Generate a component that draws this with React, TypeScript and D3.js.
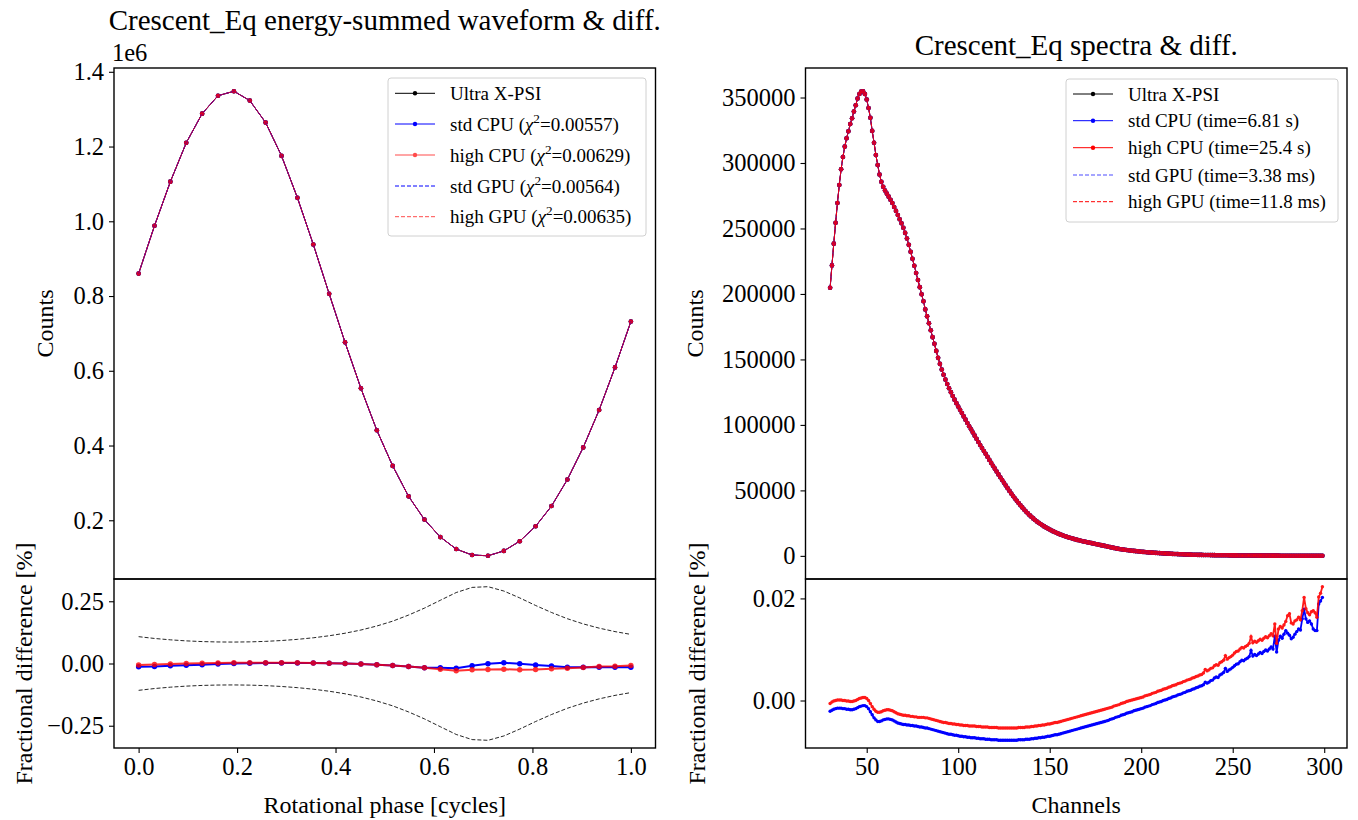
import React, { useEffect, useRef } from 'react';
import * as d3 from 'd3';

const FONT = '"Liberation Serif", "Times New Roman", serif';

// energy-summed waveform, 32 phase bins (counts)
const phases = d3.range(32).map((i) => i / 31);
const waveCounts = [
  860000, 988000, 1106000, 1210000, 1288000, 1336000, 1348000, 1323000, 1264000, 1175000,
  1063000, 938000, 806000, 676000, 553000, 441000, 345500, 264000, 202000, 155000,
  123000, 107000, 105000, 118000, 144000, 184000, 238000, 309000, 395000, 495000,
  609000, 732000,
];
// Poisson envelope [%]
const waveEnvelope = [
  0.1078, 0.1006, 0.0951, 0.0909, 0.0881, 0.0865, 0.0861, 0.0869, 0.0889, 0.0923,
  0.097, 0.1033, 0.1114, 0.1216, 0.1345, 0.1506, 0.1701, 0.1946, 0.2225, 0.254,
  0.2851, 0.3057, 0.3086, 0.2911, 0.2635, 0.2331, 0.205, 0.1799, 0.1591, 0.1421,
  0.1281, 0.1169,
];
// fractional differences [1e-3 %]
const waveDiffStd = [
  -13, -12, -9, -7, -5, -2, 0, 1, 2, 2, 2, 2, 1, 0, -2, -5, -8, -12, -17, -17,
  -19, -9, -1, 3, -1, -6, -10, -15, -15, -15, -15, -15,
];
const waveDiffHigh = [
  -6, -4, -2, 0, 1, 2, 3, 3, 3, 3, 3, 2, 1, 0, -2, -5, -8, -12, -17, -23,
  -29, -25, -24, -23, -25, -24, -21, -19, -16, -12, -11, -8,
];

// spectrum, channels 30..299 (thousands of counts)
const channels = d3.range(30, 300);
const spectrumK = [
  204.7, 221.8, 238.4, 254.4, 269.4, 283.2, 295.2, 304.6, 312.5, 318.9,
  324.2, 329.8, 334.2, 339.3, 344.1, 349.2, 352.7, 354.6, 354.8, 352.7,
  348.5, 342.0, 334.6, 324.5, 315.5, 306.1, 298.5, 291.2, 285.6, 281.8,
  279.0, 276.6, 274.3, 271.9, 269.4, 266.4, 263.4, 260.3, 257.0, 254.0,
  250.5, 246.6, 242.3, 237.5, 232.2, 226.9, 221.5, 216.0, 210.6, 205.2,
  199.8, 194.4, 188.2, 182.9, 177.6, 172.3, 167.0, 161.9, 156.5, 151.2,
  146.6, 142.3, 138.3, 134.6, 131.2, 128.0, 125.0, 122.1, 119.3, 116.6,
  114.0, 111.5, 109.0, 106.5, 104.0, 101.5, 99.0, 96.6, 94.2, 91.8,
  89.4, 87.0, 84.7, 82.4, 80.1, 77.9, 75.6, 73.3, 71.0, 68.8,
  66.6, 64.4, 62.2, 60.0, 57.9, 55.8, 53.7, 51.6, 49.6, 47.6,
  45.7, 43.8, 42.0, 40.3, 38.6, 37.0, 35.4, 33.9, 32.5, 31.1,
  29.8, 28.6, 27.4, 26.3, 25.3, 24.3, 23.4, 22.5, 21.7, 20.9,
  20.1, 19.4, 18.7, 18.0, 17.4, 16.8, 16.2, 15.7, 15.2, 14.7,
  14.2, 13.8, 13.4, 13.0, 12.6, 12.2, 11.9, 11.5, 11.2, 10.9,
  10.6, 10.3, 10.0, 9.7, 9.4, 9.1, 8.8, 8.5, 8.2, 7.9,
  7.6, 7.3, 7.0, 6.7, 6.4, 6.1, 5.8, 5.5, 5.3, 5.1,
  4.9, 4.7, 4.5, 4.3, 4.1, 3.95, 3.8, 3.65, 3.5, 3.35,
  3.2, 3.05, 2.9, 2.8, 2.7, 2.6, 2.5, 2.4, 2.3, 2.2,
  2.1, 2.0, 1.92, 1.84, 1.76, 1.68, 1.6, 1.53, 1.46, 1.4,
  1.34, 1.28, 1.22, 1.16, 1.1, 1.05, 1.0, 0.95, 0.91, 0.87,
  0.83, 0.79, 0.76, 0.73, 0.7, 0.67, 0.64, 0.61, 0.59, 0.57,
  0.55, 0.53, 0.51, 0.49, 0.47, 0.45, 0.43, 0.42, 0.4, 0.39,
  0.37, 0.36, 0.35, 0.33, 0.32, 0.31, 0.3, 0.29, 0.28, 0.27,
  0.26, 0.25, 0.24, 0.23, 0.22, 0.21, 0.205, 0.2, 0.19, 0.185,
  0.18, 0.17, 0.165, 0.16, 0.155, 0.15, 0.145, 0.14, 0.135, 0.13,
  0.125, 0.12, 0.117, 0.114, 0.111, 0.108, 0.105, 0.102, 0.099, 0.096,
  0.093, 0.09, 0.088, 0.086, 0.084, 0.082, 0.08, 0.078, 0.076, 0.074,
];
// spectrum fractional differences [1e-4 %]
const specDiffHigh = [
  -6, -3, -1, 0, 1, 1, 1, 0, 0, -1, -1, -2, -2, -1, 0, 2, 4, 5, 6, 6,
  4, 0, -6, -12, -17, -21, -23, -23, -22, -20, -19,
  -18, -18, -19, -20, -22, -24, -26, -27, -28, -29,
  -29, -30, -30, -31, -31, -32, -32, -33, -33, -33,
  -33, -34, -34, -35, -36, -37, -38, -39, -40, -41,
  -42, -43, -43, -44, -45, -45, -46, -46, -47, -47,
  -48, -48, -49, -49, -49, -50, -50, -50, -50, -51,
  -51, -51, -52, -52, -52, -52, -53, -53, -53, -53,
  -53, -54, -54, -54, -54, -54, -54, -54, -54, -54,
  -54, -54, -53, -53, -53, -53, -52, -52, -52, -51,
  -51, -50, -50, -49, -49, -48, -48, -47, -46, -46,
  -45, -44, -43, -43, -42, -41, -40, -39, -38, -37,
  -36, -35, -34, -33, -32, -31, -30, -29, -28, -27,
  -26, -25, -24, -23, -22, -21, -20, -19, -18, -17,
  -16, -15, -14, -13, -11, -10, -9, -8, -6, -5,
  -4, -2, -1, 0, 1, 2, 3, 4, 5, 6,
  7, 9, 10, 11, 12, 14, 15, 16, 18, 19,
  20, 22, 23, 24, 26, 27, 29, 30, 31, 33,
  34, 35, 37, 38, 40, 41, 42, 44, 45, 47,
  48, 50, 51, 54,
  61, 58, 60, 63, 64, 68, 70, 69, 74, 76,
  79, 88, 81, 84, 86, 89, 93, 96, 97, 101,
  104, 103, 106, 108, 112, 125, 113, 116, 114, 117,
  120, 118, 122, 125, 123, 127, 131, 127, 150, 112,
  140, 145, 142, 148, 155, 166, 170, 152, 150, 156,
  158, 163, 158, 176, 202, 180, 172, 168, 174, 176,
  172, 163, 203, 210, 223,
];
const specDiffStd = [
  -21, -19, -17, -16, -15, -15, -15, -16, -16, -17, -17, -18, -18, -17, -16, -14, -12, -11, -10, -10,
  -12, -16, -22, -28, -34, -38, -41, -41, -40, -38, -37,
  -36, -36, -37, -38, -40, -42, -44, -45, -46, -47,
  -47, -48, -48, -49, -49, -50, -50, -51, -52, -52,
  -53, -54, -54, -55, -56, -57, -58, -59, -60, -61,
  -62, -63, -64, -65, -66, -66, -67, -68, -68, -69,
  -70, -70, -71, -71, -72, -72, -73, -73, -73, -74,
  -74, -75, -75, -75, -76, -76, -76, -77, -77, -77,
  -77, -78, -78, -78, -78, -78, -78, -78, -78, -78,
  -78, -78, -77, -77, -77, -77, -76, -76, -76, -75,
  -75, -74, -74, -73, -73, -72, -72, -71, -70, -70,
  -69, -68, -67, -67, -66, -65, -64, -63, -62, -61,
  -60, -59, -58, -57, -56, -55, -54, -53, -52, -51,
  -50, -49, -48, -47, -46, -45, -44, -43, -42, -41,
  -40, -39, -37, -36, -35, -33, -32, -31, -29, -28,
  -27, -25, -24, -23, -22, -20, -19, -18, -17, -16,
  -15, -13, -12, -11, -10, -8, -7, -6, -4, -3,
  -2, 0, 1, 2, 4, 5, 7, 8, 9, 11,
  12, 13, 15, 16, 18, 19, 20, 22, 23, 25,
  26, 28, 29, 31,
  36, 34, 36, 39, 40, 44, 46, 45, 50, 52,
  55, 63, 57, 60, 62, 65, 68, 71, 72, 76,
  79, 78, 81, 83, 86, 98, 87, 90, 88, 91,
  94, 92, 96, 99, 97, 101, 105, 101, 126, 95,
  118, 126, 122, 130, 137, 132, 128, 121, 124, 130,
  135, 140, 138, 160, 179, 160, 153, 156, 150, 140,
  137, 137, 189, 195, 202,
];

const leftLegend = [
  { name: 'Ultra X-PSI', stat: '', color: '#000', dash: false, op: 1 },
  { name: 'std CPU', stat: '0.00557', color: '#0000ff', dash: false, op: 1 },
  { name: 'high CPU', stat: '0.00629', color: '#ff0000', dash: false, op: 0.7 },
  { name: 'std GPU', stat: '0.00564', color: '#0000ff', dash: true, op: 1 },
  { name: 'high GPU', stat: '0.00635', color: '#ff0000', dash: true, op: 0.7 },
];
const rightLegend = [
  { name: 'Ultra X-PSI', stat: '', color: '#000', dash: false, op: 1 },
  { name: 'std CPU', stat: 'time=6.81 s', color: '#0000ff', dash: false, op: 1 },
  { name: 'high CPU', stat: 'time=25.4 s', color: '#ff0000', dash: false, op: 1 },
  { name: 'std GPU', stat: 'time=3.38 ms', color: '#0000ff', dash: true, op: 0.7 },
  { name: 'high GPU', stat: 'time=11.8 ms', color: '#ff0000', dash: true, op: 1 },
];

const TICK_FS = 24.5;
const LABEL_FS = 24;
const TITLE_FS = 29;
const LEG_FS = 19;

function padded(vals: number[]): [number, number] {
  const [lo, hi] = d3.extent(vals) as [number, number];
  const p = (hi - lo) * 0.05;
  return [lo - p, hi + p];
}

export default function App() {
  const ref = useRef<SVGSVGElement>(null);

  useEffect(() => {
    const svg = d3.select(ref.current);
    svg.selectAll('*').remove();

    const top = 68, mid = 579, bot = 748;
    const L = { x0: 114, x1: 655.5 };
    const R = { x0: 805.5, x1: 1347 };

    const xP = d3.scaleLinear().domain(padded([0, 1])).range([L.x0, L.x1]);
    const yW = d3.scaleLinear().domain(padded(waveCounts)).range([mid, top]);
    const envAll = waveEnvelope.concat(waveEnvelope.map((v) => -v));
    const yWD = d3.scaleLinear().domain(padded(envAll)).range([bot, mid]);

    const xC = d3.scaleLinear().domain(padded([channels[0], channels[channels.length - 1]])).range([R.x0, R.x1]);
    const yS = d3.scaleLinear().domain(padded(spectrumK.map((v) => v * 1000))).range([mid, top]);
    const diffAll = specDiffHigh.concat(specDiffStd).map((v) => v / 1e4);
    const ySD = d3.scaleLinear().domain(padded(diffAll)).range([bot, mid]);

    const styleAxis = (g: any) => {
      g.select('.domain').remove();
      g.attr('font-family', FONT).attr('font-size', TICK_FS);
      g.selectAll('text').attr('fill', '#000');
      g.selectAll('line').attr('stroke', '#000').attr('stroke-width', 1.1);
    };

    const series = (
      xs: number[], ys: number[], x: any, y: any,
      o: { color: string; dash?: boolean; r?: number; w?: number; op?: number }
    ) => {
      const g = svg.append('g').attr('opacity', o.op ?? 1);
      const line = d3.line<number>().x((_, i) => x(xs[i])).y((d) => y(d));
      g.append('path')
        .datum(ys)
        .attr('fill', 'none')
        .attr('stroke', o.color)
        .attr('stroke-width', o.w ?? 1)
        .attr('stroke-dasharray', o.dash ? '4,2' : null)
        .attr('d', line);
      if (o.r) {
        g.selectAll('circle')
          .data(ys)
          .join('circle')
          .attr('cx', (_, i) => x(xs[i]))
          .attr('cy', (d) => y(d))
          .attr('r', o.r)
          .attr('fill', o.color);
      }
    };

    // ---------- left top: waveform ----------
    series(phases, waveCounts, xP, yW, { color: '#000', r: 2.3 });
    series(phases, waveCounts, xP, yW, { color: '#0000ff', r: 2.3 });
    series(phases, waveCounts, xP, yW, { color: '#ff0000', r: 2.3, op: 0.85 });
    series(phases, waveCounts, xP, yW, { color: '#0000ff', dash: true });
    series(phases, waveCounts, xP, yW, { color: '#ff0000', dash: true, op: 0.7 });

    // left bottom: differences
    series(phases, waveEnvelope, xP, yWD, { color: '#000', dash: true, op: 0.85 });
    series(phases, waveEnvelope.map((v) => -v), xP, yWD, { color: '#000', dash: true, op: 0.85 });
    series(phases, waveDiffStd.map((v) => v / 1000), xP, yWD, { color: '#0000ff', r: 2.7, w: 2 });
    series(phases, waveDiffHigh.map((v) => v / 1000), xP, yWD, { color: '#ff0000', r: 2.7, w: 2, op: 0.8 });

    // ---------- right top: spectrum ----------
    const spec = spectrumK.map((v) => v * 1000);
    series(channels, spec, xC, yS, { color: '#000', r: 2.3 });
    series(channels, spec, xC, yS, { color: '#0000ff', r: 2.3 });
    series(channels, spec, xC, yS, { color: '#ff0000', r: 2.3, op: 0.85 });
    series(channels, spec, xC, yS, { color: '#0000ff', dash: true, op: 0.7 });
    series(channels, spec, xC, yS, { color: '#ff0000', dash: true });

    series(channels, specDiffStd.map((v) => v / 1e4), xC, ySD, { color: '#0000ff', r: 1.7, w: 1.8 });
    series(channels, specDiffHigh.map((v) => v / 1e4), xC, ySD, { color: '#ff0000', r: 1.7, w: 1.8, op: 0.9 });

    // ---------- axes ----------
    const fmtMinus = (s: string) => s.replace('-', '\u2212');

    svg.append('g').attr('transform', `translate(${L.x0},0)`)
      .call(d3.axisLeft(yW).tickValues([0.2e6, 0.4e6, 0.6e6, 0.8e6, 1.0e6, 1.2e6, 1.4e6])
        .tickFormat((d: any) => (d / 1e6).toFixed(1)).tickSize(5).tickPadding(5))
      .call(styleAxis);
    svg.append('g').attr('transform', `translate(${L.x0},0)`)
      .call(d3.axisLeft(yWD).tickValues([-0.25, 0, 0.25])
        .tickFormat((d: any) => fmtMinus(d.toFixed(2))).tickSize(5).tickPadding(5))
      .call(styleAxis);
    svg.append('g').attr('transform', `translate(0,${bot})`)
      .call(d3.axisBottom(xP).tickValues([0, 0.2, 0.4, 0.6, 0.8, 1.0])
        .tickFormat((d: any) => d.toFixed(1)).tickSize(5).tickPadding(5))
      .call(styleAxis);

    svg.append('g').attr('transform', `translate(${R.x0},0)`)
      .call(d3.axisLeft(yS).tickValues(d3.range(0, 350001, 50000))
        .tickFormat((d: any) => String(d)).tickSize(5).tickPadding(5))
      .call(styleAxis);
    svg.append('g').attr('transform', `translate(${R.x0},0)`)
      .call(d3.axisLeft(ySD).tickValues([0, 0.02])
        .tickFormat((d: any) => d.toFixed(2)).tickSize(5).tickPadding(5))
      .call(styleAxis);
    svg.append('g').attr('transform', `translate(0,${bot})`)
      .call(d3.axisBottom(xC).tickValues([50, 100, 150, 200, 250, 300])
        .tickFormat((d: any) => String(d)).tickSize(5).tickPadding(5))
      .call(styleAxis);

    // frames
    [L, R].forEach((p) => {
      [[top, mid], [mid, bot]].forEach(([a, b]) => {
        svg.append('rect')
          .attr('x', p.x0).attr('y', a)
          .attr('width', p.x1 - p.x0).attr('height', b - a)
          .attr('fill', 'none').attr('stroke', '#000').attr('stroke-width', 1.4);
      });
    });

    // ---------- text ----------
    const text = (x: number, y: number, s: string, fs: number, anchor = 'middle', rot = false) =>
      svg.append('text')
        .attr('transform', rot ? `translate(${x},${y}) rotate(-90)` : `translate(${x},${y})`)
        .attr('text-anchor', anchor)
        .attr('dominant-baseline', rot ? 'central' : null)
        .attr('font-family', FONT).attr('font-size', fs).attr('fill', '#000')
        .text(s);

    text((L.x0 + L.x1) / 2, 30, 'Crescent_Eq energy-summed waveform & diff.', TITLE_FS);
    text((R.x0 + R.x1) / 2, 55, 'Crescent_Eq spectra & diff.', TITLE_FS);
    text(L.x0 - 2, 61, '1e6', TICK_FS, 'start');
    text((L.x0 + L.x1) / 2, 813, 'Rotational phase [cycles]', LABEL_FS);
    text((R.x0 + R.x1) / 2, 813, 'Channels', LABEL_FS);
    text(45, (top + mid) / 2, 'Counts', LABEL_FS, 'middle', true);
    text(24, (mid + bot) / 2, 'Fractional difference [%]', LABEL_FS, 'middle', true);
    text(695, (top + mid) / 2, 'Counts', LABEL_FS, 'middle', true);
    text(697, (mid + bot) / 2, 'Fractional difference [%]', LABEL_FS, 'middle', true);

    // ---------- legends ----------
    const legend = (
      items: typeof leftLegend, bx: number, by: number, bw: number, bh: number,
      rows: number[], hx: number, tx: number, chi: boolean
    ) => {
      svg.append('rect')
        .attr('x', bx).attr('y', by).attr('width', bw).attr('height', bh)
        .attr('rx', 3).attr('fill', '#fff').attr('fill-opacity', 0.8)
        .attr('stroke', '#d0d0d0').attr('stroke-width', 1);
      items.forEach((it, i) => {
        const y = rows[i];
        const g = svg.append('g').attr('opacity', it.op);
        g.append('line')
          .attr('x1', hx).attr('x2', hx + 40).attr('y1', y).attr('y2', y)
          .attr('stroke', it.color).attr('stroke-width', 1)
          .attr('stroke-dasharray', it.dash ? '4,2' : null);
        if (!it.dash) {
          g.append('circle').attr('cx', hx + 20).attr('cy', y).attr('r', 2.2).attr('fill', it.color);
        }
        const t = svg.append('text')
          .attr('x', tx).attr('y', y + 6.5)
          .attr('font-family', FONT).attr('font-size', LEG_FS).attr('fill', '#000');
        if (!it.stat) {
          t.text(it.name);
        } else if (chi) {
          t.append('tspan').text(`${it.name} (`);
          t.append('tspan').attr('font-style', 'italic').text('\u03c7');
          t.append('tspan').attr('font-size', LEG_FS * 0.7).attr('dy', -8).text('2');
          t.append('tspan').attr('dy', 8).text(`=${it.stat})`);
        } else {
          t.text(`${it.name} (${it.stat})`);
        }
      });
    };
    legend(leftLegend, 388, 78, 258, 158, [93.3, 124, 155, 186, 216.7], 395, 450, true);
    legend(rightLegend, 1066, 79, 272, 143, [94, 120.7, 147.7, 175, 201.7], 1073, 1128, false);
  }, []);

  return (
    <svg
      ref={ref}
      width={1358}
      height={820}
      style={{ position: 'absolute', left: 0, top: 0, background: '#fff' }}
    />
  );
}
